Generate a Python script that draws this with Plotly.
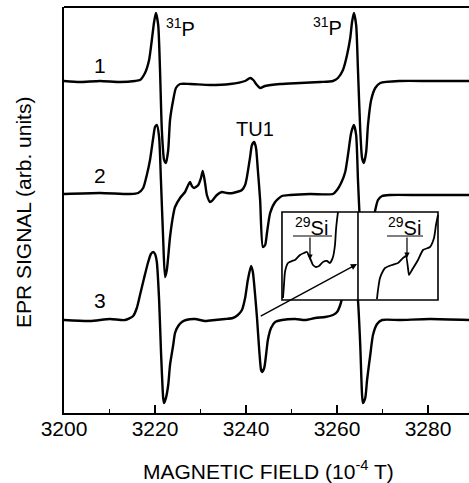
import plotly.graph_objects as go

# ---------------- data ----------------
# Magnetic field (10^-4 T) and EPR signal relative to each trace's baseline (arb. units)
field_1 = [3200.0, 3203.5, 3207.9, 3212.3, 3215.6, 3216.7, 3217.8, 3218.7, 3219.3, 3219.8,
           3220.2, 3220.7, 3221.1, 3221.5, 3222.0, 3222.4, 3222.9, 3223.3, 3224.0, 3224.6,
           3225.5, 3227.7, 3232.1, 3236.5, 3239.8, 3240.9, 3241.6, 3242.2, 3243.1, 3244.2,
           3247.5, 3251.9, 3256.3, 3259.1, 3260.2, 3261.3, 3262.2, 3262.9, 3263.3, 3263.7,
           3264.2, 3264.6, 3265.1, 3265.5, 3265.9, 3266.4, 3266.8, 3267.5, 3268.4, 3269.5,
           3273.8, 3280.4, 3289.0]
signal_1 = [0, -1, 0, -1, 0, 1, 8, 21, 41, 59,
            68, 56, 11, -49, -79, -82, -69, -39, -19, -7,
            -3, -3, -4, -3, 0, 3, 1, -3, -7, -5,
            -3, -2, -1, 0, 3, 11, 26, 43, 59, 68,
            56, 11, -49, -77, -82, -71, -44, -19, -7, -2,
            0, 0, 0]

field_2 = [3200.0, 3207.9, 3214.5, 3216.3, 3217.4, 3218.2, 3218.9, 3219.6, 3220.0, 3220.4,
           3220.9, 3221.3, 3221.8, 3222.2, 3222.6, 3223.3, 3224.0, 3224.4, 3225.5, 3226.6,
           3227.3, 3227.7, 3228.1, 3228.6, 3229.5, 3230.1, 3230.5, 3231.0, 3231.4, 3232.1,
           3232.7, 3233.6, 3234.7, 3235.8, 3237.1, 3239.1, 3239.8, 3240.2, 3240.9, 3241.3,
           3241.8, 3242.2, 3242.6, 3243.1, 3243.7, 3244.2, 3244.6, 3245.3, 3246.4, 3247.9,
           3249.7, 3254.1, 3259.1, 3260.0, 3260.9, 3261.8, 3262.4, 3263.1, 3263.7, 3264.2,
           3264.6, 3265.1, 3265.7, 3266.4, 3266.8, 3267.5, 3268.4, 3269.0, 3269.9, 3271.6,
           3278.2, 3289.0]
signal_2 = [0, 1, 0, 1, 6, 19, 34, 56, 67, 69,
            57, 14, -46, -83, -76, -43, -21, -13, -4, 2,
            9, 12, 8, 6, 9, 16, 23, 11, -1, -8,
            -6, -1, 2, 1, 1, 4, 9, 17, 37, 49,
            52, 46, 24, -6, -53, -51, -39, -19, -8, -2,
            -1, 0, 0, 4, 11, 22, 39, 61, 69, 59,
            14, -36, -83, -78, -61, -41, -16, -6, -2, -1,
            -1, -1]

field_3 = [3200.0, 3205.7, 3210.1, 3213.4, 3215.2, 3216.0, 3216.7, 3217.6, 3218.5, 3219.1,
           3219.6, 3220.0, 3220.4, 3220.9, 3221.3, 3221.8, 3222.0, 3222.4, 3222.9, 3223.3,
           3224.0, 3224.4, 3225.1, 3225.9, 3226.8, 3228.8, 3231.0, 3233.2, 3235.4, 3237.1,
           3238.2, 3239.1, 3239.8, 3240.4, 3241.1, 3241.5, 3242.0, 3242.4, 3242.9, 3243.3,
           3243.5, 3244.0, 3244.4, 3244.8, 3245.5, 3246.4, 3247.9, 3250.8, 3253.0, 3255.2,
           3257.4, 3259.1, 3260.0, 3260.7, 3261.5, 3262.4, 3263.3, 3264.0, 3264.6, 3265.1,
           3265.5, 3265.7, 3266.2, 3266.6, 3267.3, 3267.9, 3268.8, 3269.9, 3273.8, 3280.4,
           3289.0]
signal_3 = [0, -1, 1, 0, 4, 12, 25, 42, 58, 66,
            68, 66, 58, 20, -30, -78, -83, -78, -65, -45,
            -25, -13, -6, -2, 0, 1, -1, 0, 1, 2,
            5, 10, 22, 40, 54, 48, 25, 3, -30, -50,
            -52, -48, -35, -20, -8, -2, 0, 1, 0, 2,
            3, 5, 8, 15, 30, 55, 68, 50, 20, -25,
            -75, -83, -78, -60, -35, -15, -4, 0, 0, 1,
            0]

trace_labels = ["1", "2", "3"]

# inset (magnified 29Si hyperfine regions), arbitrary inset units (0..156 x 0..88)
inset_left_x = [1, 2, 3, 6, 10, 13, 18, 22, 25, 28, 31, 34, 37, 41, 45, 48, 51, 53, 54, 55, 56]
inset_left_y = [2, 15, 28, 37, 39, 40, 45, 47, 48, 42, 35, 33, 34, 38, 39, 37, 43, 55, 70, 80, 88]
inset_right_x = [95, 96, 98, 101, 103, 110, 116, 121, 124, 126, 127, 130, 136, 141, 148, 152, 154, 156]
inset_right_y = [1, 10, 22, 29, 32, 35, 37, 42, 44, 32, 25, 30, 40, 50, 53, 62, 75, 85]

x_ticks = [3200, 3220, 3240, 3260, 3280]

# ---------------- layout helpers ----------------
FONT = "Liberation Sans, Arial, sans-serif"
offsets = [332, 219, 93]          # vertical stacking of the three spectra
INSET_X0, INSET_Y0 = 3247.9, 113  # inset lower-left corner in main-axis units
INSET_SX, INSET_SY = 1 / 4.55, 1.0
INSET_W, INSET_H = 156, 88


def ix(v):
    return INSET_X0 + v * INSET_SX


def iy(v):
    return INSET_Y0 + v * INSET_SY


fig = go.Figure()
for fx, sy, off in zip([field_1, field_2, field_3], [signal_1, signal_2, signal_3], offsets):
    fig.add_trace(go.Scatter(
        x=fx, y=[v + off for v in sy], mode="lines",
        line=dict(color="black", width=2.4, shape="spline", smoothing=0.6),
        hoverinfo="skip", showlegend=False))

# white inset panel covering the spectra behind it
fig.add_trace(go.Scatter(
    x=[ix(0), ix(INSET_W), ix(INSET_W), ix(0), ix(0)],
    y=[iy(0), iy(0), iy(INSET_H), iy(INSET_H), iy(0)],
    mode="lines", fill="toself", fillcolor="white", line=dict(width=0, color="white"),
    hoverinfo="skip", showlegend=False))

for xs, ys in [(inset_left_x, inset_left_y), (inset_right_x, inset_right_y)]:
    fig.add_trace(go.Scatter(
        x=[ix(v) for v in xs], y=[iy(v) for v in ys], mode="lines",
        line=dict(color="black", width=1.8, shape="spline", smoothing=0.5),
        hoverinfo="skip", showlegend=False))

fig.update_layout(
    width=469, height=483,
    margin=dict(l=64, r=0, t=7, b=70),
    paper_bgcolor="white", plot_bgcolor="white",
    font=dict(family=FONT, color="black"),
    showlegend=False, hovermode=False,
    xaxis=dict(range=[3200, 3289.0], tickvals=x_ticks, ticks="inside", ticklen=8,
               tickwidth=1.5, tickcolor="black", showline=True, linecolor="black",
               linewidth=1.8, showgrid=False, zeroline=False, ticklabelstandoff=-4,
               tickfont=dict(size=21, family=FONT, color="black"),
               minor=dict(ticks="inside", ticklen=4, tickwidth=1.5, tickcolor="black",
                          dtick=10, showgrid=False)),
    yaxis=dict(range=[0, 406], showticklabels=False, ticks="", showline=True,
               linecolor="black", linewidth=1.8, showgrid=False, zeroline=False),
)

shapes = [
    dict(type="line", xref="paper", yref="paper", x0=0, x1=1, y0=1, y1=1,
         line=dict(color="black", width=1.8)),
    dict(type="rect", xref="x", yref="y", x0=ix(0), x1=ix(INSET_W), y0=iy(0), y1=iy(INSET_H),
         line=dict(color="black", width=1.6)),
    dict(type="line", xref="x", yref="y", x0=ix(76), x1=ix(76), y0=iy(0), y1=iy(INSET_H),
         line=dict(color="black", width=1.6)),
    dict(type="line", xref="x", yref="y", x0=ix(11), x1=ix(50), y0=iy(64), y1=iy(64),
         line=dict(color="black", width=1.2)),
    dict(type="line", xref="x", yref="y", x0=ix(105), x1=ix(141), y0=iy(64), y1=iy(64),
         line=dict(color="black", width=1.2)),
]
fig.update_layout(shapes=shapes)

ann = []
for lab, yy in zip(trace_labels, [348, 238, 113]):
    ann.append(dict(x=3207.9, y=yy, xref="x", yref="y", text=lab, showarrow=False,
                    font=dict(size=21, family=FONT)))
ann.append(dict(x=3225.5, y=386, xref="x", yref="y", text="<sup>31</sup>P", showarrow=False,
                font=dict(size=20, family=FONT)))
ann.append(dict(x=3257.8, y=387, xref="x", yref="y", text="<sup>31</sup>P", showarrow=False,
                font=dict(size=20, family=FONT)))
ann.append(dict(x=3242.0, y=284, xref="x", yref="y", text="TU1", showarrow=False,
                font=dict(size=20, family=FONT)))
ann.append(dict(x=ix(30), y=iy(74), xref="x", yref="y", text="<sup>29</sup>Si", showarrow=False,
                font=dict(size=20, family=FONT)))
ann.append(dict(x=ix(123), y=iy(74), xref="x", yref="y", text="<sup>29</sup>Si", showarrow=False,
                font=dict(size=20, family=FONT)))
ann.append(dict(x=ix(28), y=iy(40), ax=ix(28), ay=iy(64), xref="x", yref="y", axref="x", ayref="y",
                text="", showarrow=True, arrowhead=2, arrowsize=0.9, arrowwidth=1.2,
                arrowcolor="black"))
ann.append(dict(x=ix(125), y=iy(42), ax=ix(125), ay=iy(64), xref="x", yref="y", axref="x",
                ayref="y", text="", showarrow=True, arrowhead=2, arrowsize=0.9, arrowwidth=1.2,
                arrowcolor="black"))
ann.append(dict(x=3264.4, y=149, ax=3242.9, ay=96, xref="x", yref="y", axref="x", ayref="y",
                text="", showarrow=True, arrowhead=2, arrowsize=0.9, arrowwidth=1.4,
                arrowcolor="black"))
ann.append(dict(x=-0.1012, y=0.4926, xref="paper", yref="paper", text="EPR SIGNAL (arb. units)",
                textangle=-90, showarrow=False, xanchor="center", yanchor="middle",
                font=dict(size=21, family=FONT)))
ann.append(dict(x=0.504, y=-0.140, xref="paper", yref="paper",
                text="MAGNETIC FIELD (10<sup>-4</sup> T)", showarrow=False,
                xanchor="center", yanchor="middle", font=dict(size=21, family=FONT)))
fig.update_layout(annotations=ann)

fig.write_html("out.html", config={"displayModeBar": False, "staticPlot": True},
               post_script="document.body.style.margin='0px';")
